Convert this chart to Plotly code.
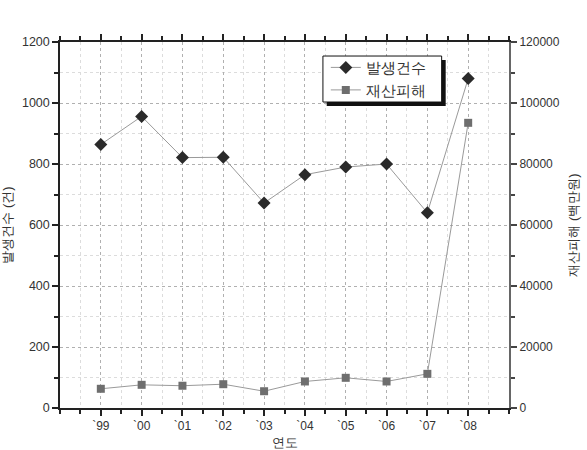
import plotly.graph_objects as go

years = ["`99", "`00", "`01", "`02", "`03", "`04", "`05", "`06", "`07", "`08"]
cases = [864, 956, 821, 822, 672, 765, 790, 800, 640, 1080]
damage = [6300, 7600, 7300, 7800, 5500, 8700, 9900, 8700, 11200, 93500]

xs = list(range(len(years)))
font_main = "Liberation Sans, Arial, sans-serif"
tick_col = "#333333"
grid_major = "#b0b0b0"
grid_minor = "#dcdcdc"

fig = go.Figure()
fig.add_trace(go.Scatter(
    x=xs, y=cases, name="발생건수", mode="lines+markers",
    line=dict(color="#9a9a9a", width=1),
    marker=dict(symbol="diamond", size=10, color="#2a2a2a"),
))
fig.add_trace(go.Scatter(
    x=xs, y=damage, name="재산피해", mode="lines+markers", yaxis="y2",
    line=dict(color="#9a9a9a", width=1),
    marker=dict(symbol="square", size=8, color="#6e6e6e"),
))

fig.update_layout(
    width=587, height=450,
    margin=dict(l=59.5, r=77.5, t=42, b=42, autoexpand=False),
    paper_bgcolor="white", plot_bgcolor="white",
    font=dict(family=font_main, size=12, color=tick_col),
    showlegend=True,
    legend=dict(
        x=0.592, y=0.975, xanchor="left", yanchor="top",
        bgcolor="rgba(0,0,0,0)", borderwidth=0,
        font=dict(size=15, color="#333333"),
        tracegroupgap=0,
    ),
    xaxis=dict(
        range=[-1, 10], tickmode="array", tickvals=xs, ticktext=years,
        automargin=False,
        showline=True, linecolor="#222222", linewidth=1.5, mirror="ticks",
        ticks="outside", ticklen=6, tickcolor="#222222", tickwidth=1.5,
        showgrid=True, gridcolor=grid_major, griddash="dot", gridwidth=1,
        zeroline=False,
        minor=dict(dtick=0.5, tick0=0, ticks="outside", ticklen=4, tickcolor="#222222",
                   showgrid=True, gridcolor=grid_minor, griddash="dot"),
        tickfont=dict(size=12, color=tick_col),
        title=dict(text="연도", standoff=15, font=dict(size=13, color=tick_col)),
    ),
    yaxis=dict(
        range=[0, 1200], dtick=200, tick0=0, automargin=False,
        showline=True, linecolor="#222222", linewidth=1.5,
        ticks="outside", ticklen=6, tickcolor="#222222", tickwidth=1.5,
        showgrid=True, gridcolor=grid_major, griddash="dot", gridwidth=1,
        zeroline=False,
        minor=dict(dtick=100, ticks="outside", ticklen=4, tickcolor="#222222",
                   showgrid=True, gridcolor=grid_minor, griddash="dot"),
        tickfont=dict(size=12.5, color=tick_col),
        title=dict(text="발생건수 (건)", standoff=6, font=dict(size=13, color=tick_col)),
    ),
    yaxis2=dict(
        range=[0, 120000], dtick=20000, tick0=0, overlaying="y", side="right",
        tickformat="d", automargin=False,
        showline=True, linecolor="#666666", linewidth=2,
        ticks="outside", ticklen=6, tickcolor="#444444", tickwidth=1.5,
        showgrid=False, zeroline=False,
        minor=dict(dtick=10000, ticks="outside", ticklen=4, tickcolor="#444444"),
        tickfont=dict(size=12, color=tick_col),
        title=dict(text="재산피해 (백만원)", standoff=10, font=dict(size=13, color=tick_col)),
    ),
    shapes=[
        dict(type="rect", xref="paper", yref="paper",
             x0=0.594, x1=0.859, y0=0.825, y1=0.951,
             fillcolor="#111111", line=dict(width=0), layer="above"),
        dict(type="rect", xref="paper", yref="paper",
             x0=0.5856, x1=0.85, y0=0.836, y1=0.9617,
             fillcolor="white", line=dict(width=1, color="#111111"), layer="above"),
    ],
)

fig.write_html("out.html")
